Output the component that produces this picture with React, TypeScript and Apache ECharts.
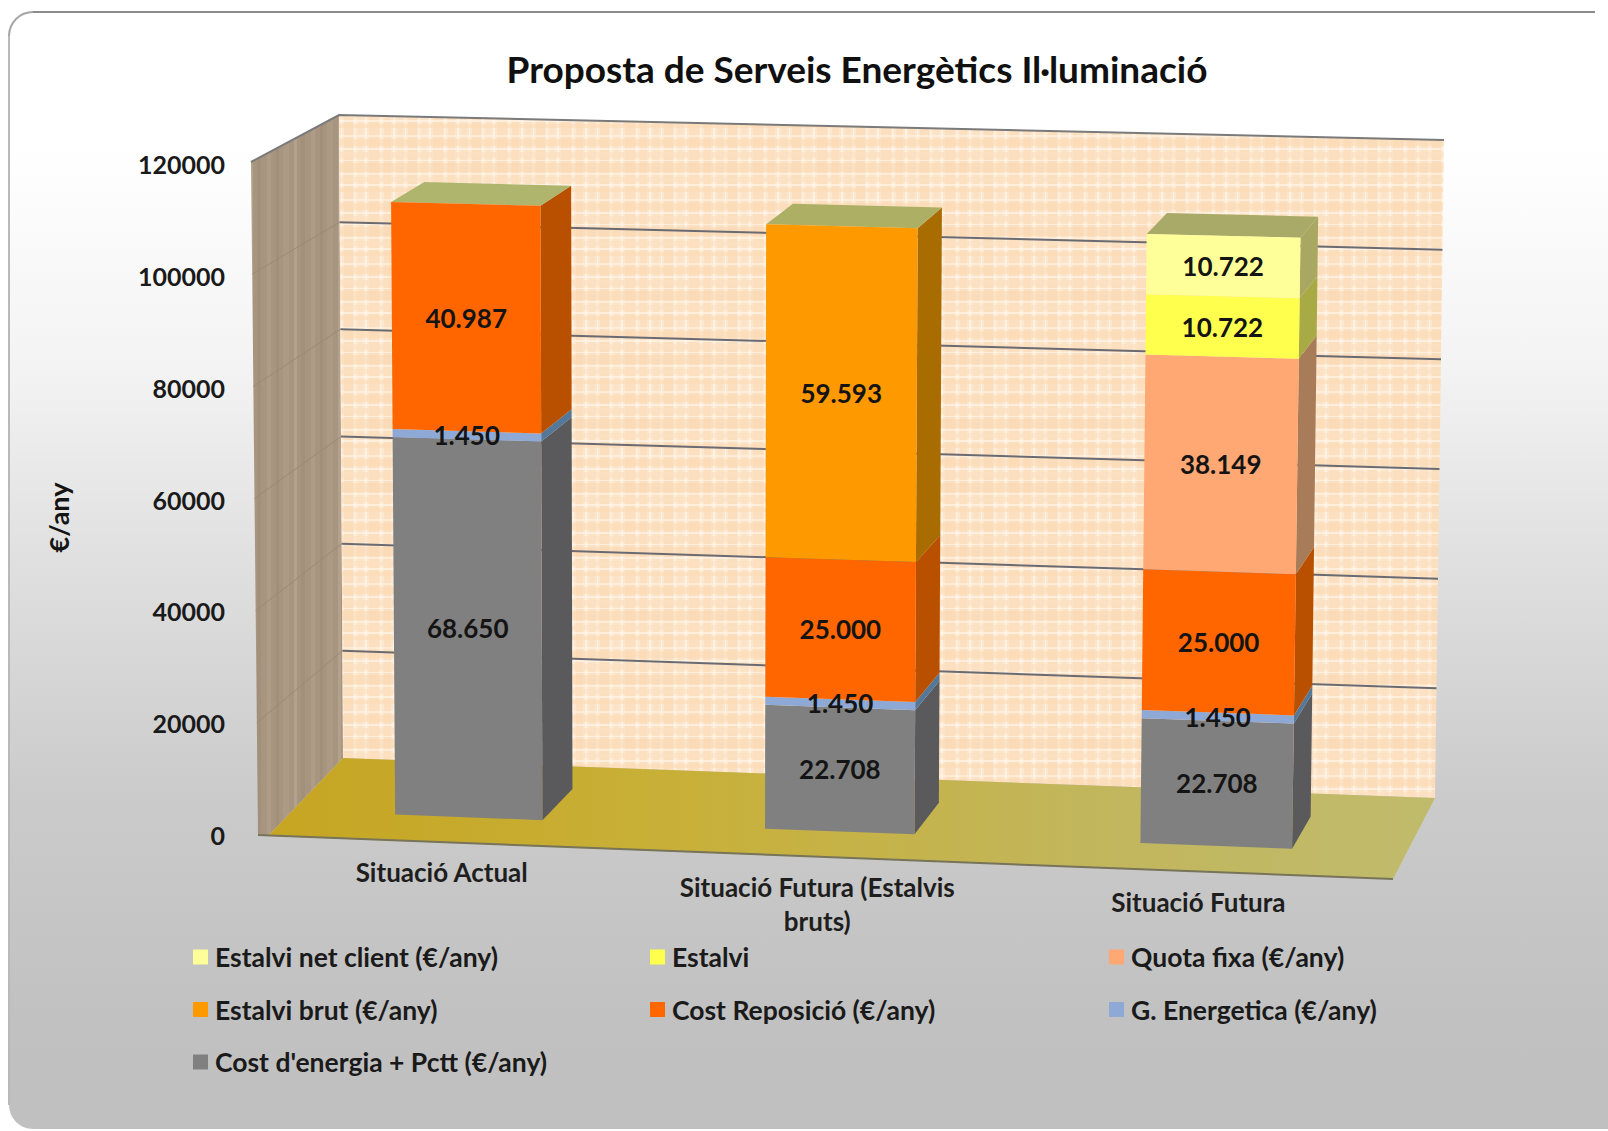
import React, { useEffect, useRef } from "react";
import * as echarts from "echarts";

const titleText = "Proposta de Serveis Energètics Il·luminació";
const axisName = "€/any";
const categories = ["Situació Actual", "Situació Futura (Estalvis\nbruts)", "Situació Futura"];
const tickValues = [0, 20000, 40000, 60000, 80000, 100000, 120000];

const costEnergia = [68650, 22708, 22708];
const gEnergetica = [1450, 1450, 1450];
const costReposicio = [40987, 25000, 25000];
const estalviBrut = [0, 59593, 0];
const quotaFixa = [0, 0, 38149];
const estalvi = [0, 0, 10722];
const estalviNet = [0, 0, 10722];

const seriesNames = [
  "Cost d'energia + Pctt (€/any)",
  "G. Energetica (€/any)",
  "Cost Reposició (€/any)",
  "Estalvi brut (€/any)",
  "Quota fixa (€/any)",
  "Estalvi",
  "Estalvi net client (€/any)",
];
const seriesValues = [costEnergia, gEnergetica, costReposicio, estalviBrut, quotaFixa, estalvi, estalviNet];
const frontColors = ["#808080", "#8ea9d6", "#ff6600", "#ff9900", "#ffa874", "#ffff4d", "#ffff99"];
const sideColors = ["#5a5a5c", "#54789a", "#b85000", "#a86c00", "#a87c58", "#a8aa45", "#a8a862"];
const topColors = ["#8a8a60", "#8a9a80", "#b0b56e", "#adb064", "#b0a870", "#abab62", "#aaaa68"];

const legendColumns = [
  { left: 193, names: [seriesNames[6], seriesNames[3], seriesNames[0]] },
  { left: 650, names: [seriesNames[5], seriesNames[2]] },
  { left: 1109, names: [seriesNames[4], seriesNames[1]] },
];

const FONT = "Lato, 'Noto Sans', sans-serif";
const INK = "#141414";
const BAR_FRACTION = 0.4;
const DEPTH_FRONT = 0.68;
const DEPTH_BACK = 0.28;

// corners of the 3D box in the picture: [category 0..1][value 0..1][depth 0 back, 1 front]
const BOX = {
  bbl: [343, 758], bbr: [1435, 798], btl: [339, 115], btr: [1444, 140],
  fbl: [258, 835], fbr: [1393, 879], ftl: [251, 162], ftr: [1405, 190],
};
const FLOOR_CORNER = [268, 836];
const mix = (a: number[], b: number[], t: number) => [a[0] + (b[0] - a[0]) * t, a[1] + (b[1] - a[1]) * t];
function project(uIn: number, v: number, d: number) {
  const u = uIn - 0.022 * uIn * (1 - uIn);
  const back = mix(mix(BOX.bbl, BOX.bbr, u), mix(BOX.btl, BOX.btr, u), v);
  const front = mix(mix(BOX.fbl, BOX.fbr, u), mix(BOX.ftl, BOX.ftr, u), v);
  return mix(back, front, d);
}
// bars stand a little lower on the wall than the box scale: the original's perspective
const barLevel = (v: number) => v - 0.0045 * Math.min(1, v / 0.1);
const norm = (cs: any, pt: number[]) => [(pt[0] - cs.x) / cs.width, (cs.y + cs.height - pt[1]) / cs.height];
const fmtValue = (n: number) => {
  const s = String(n);
  return s.slice(0, s.length - 3) + "." + s.slice(-3);
};

function makeBackTexture() {
  const c = document.createElement("canvas");
  c.width = 64; c.height = 64;
  const g = c.getContext("2d")!;
  g.fillStyle = "#fce6cd";
  g.fillRect(0, 0, 64, 64);
  const bands = [
    [0, 7, "#fbdab4"], [9, 2, "#fff8ee"], [13, 6, "#fcdfbf"], [21, 1, "#fff8ee"],
    [24, 9, "#fad9b2"], [34, 2, "#fff5e8"], [38, 5, "#fce1c2"], [45, 2, "#fff9f0"],
    [49, 10, "#fbdbb6"], [60, 2, "#fff5e8"],
  ] as [number, number, string][];
  g.globalAlpha = 0.6;
  bands.forEach(([p, w, col]) => { g.fillStyle = col; g.fillRect(p, 0, w, 64); });
  bands.forEach(([p, w, col]) => { g.fillStyle = col; g.fillRect(0, (p + 11) % 64, 64, w); });
  return c;
}
function makeSideTexture() {
  const c = document.createElement("canvas");
  c.width = 44; c.height = 8;
  const g = c.getContext("2d")!;
  g.fillStyle = "#a8957f";
  g.fillRect(0, 0, 44, 8);
  [[3, 4, "#ae9c86"], [12, 3, "#a28f7a"], [19, 6, "#ac9a84"], [30, 3, "#b2a18c"], [37, 4, "#a3907b"]].forEach(
    ([p, w, col]: any) => { g.fillStyle = col; g.fillRect(p, 0, w, 8); }
  );
  return c;
}

function buildOption() {
  const backTex = { image: makeBackTexture(), repeat: "repeat", imageWidth: 64, imageHeight: 64 };
  const sideTex = { image: makeSideTexture(), repeat: "repeat", imageWidth: 44, imageHeight: 8 };

  const wallsSeries = {
    type: "custom", name: "walls", silent: true, z: 1, coordinateSystem: "cartesian2d",
    data: [[0, 0]],
    renderItem: () => ({
      type: "group",
      children: [
        { type: "polygon", shape: { points: [BOX.fbl, BOX.ftl, BOX.btl, BOX.bbl, FLOOR_CORNER] }, style: { fill: sideTex } },
        { type: "polygon", shape: { points: [BOX.bbl, BOX.btl, BOX.btr, BOX.bbr] }, style: { fill: backTex } },
        {
          type: "polygon",
          shape: { points: [FLOOR_CORNER, BOX.bbl, BOX.bbr, BOX.fbr] },
          style: {
            fill: {
              type: "linear", x: 0, y: 0, x2: 1, y2: 0,
              colorStops: [
                { offset: 0, color: "#c6a522" }, { offset: 0.35, color: "#c8b038" },
                { offset: 0.7, color: "#c2b65c" }, { offset: 1, color: "#c0bb6c" },
              ],
            },
          },
        },
        { type: "polyline", shape: { points: [BOX.fbl, BOX.fbr] }, style: { stroke: "#77745a", lineWidth: 2, fill: "none" } },
        { type: "polyline", shape: { points: [BOX.ftl, BOX.btl, BOX.btr] }, style: { stroke: "#7a7a7a", lineWidth: 2, fill: "none" } },
      ],
    }),
  };

  const gridSeries = {
    type: "custom", name: "grid lines", silent: true, z: 1, coordinateSystem: "cartesian2d",
    data: tickValues.filter((t) => t > 0 && t < 120000).map((t) => [0, t]),
    renderItem: (params: any, api: any) => {
      const cs = params.coordSys;
      const [, v] = norm(cs, api.coord([0, api.value(1)]));
      return {
        type: "group",
        children: [
          { type: "polyline", shape: { points: [project(0, v, 0), project(1, v, 0)] }, style: { stroke: "#6a6a72", lineWidth: 2, fill: "none" } },
          { type: "polyline", shape: { points: [project(0, v, 1), project(0, v, 0)] }, style: { stroke: "#9a8a78", lineWidth: 1, fill: "none" } },
        ],
      };
    },
  };

  const barSeries = seriesNames.map((name, sIdx) => {
    const data: number[][] = [];
    categories.forEach((_, c) => {
      const val = seriesValues[sIdx][c];
      if (!val) return;
      const lo = seriesValues.slice(0, sIdx).reduce((acc, arr) => acc + arr[c], 0);
      const isTop = seriesValues.slice(sIdx + 1).every((arr) => !arr[c]) ? 1 : 0;
      data.push([c, lo, lo + val, val, isTop]);
    });
    return {
      type: "custom", name, silent: true, z: 2, coordinateSystem: "cartesian2d",
      itemStyle: { color: frontColors[sIdx] },
      data,
      renderItem: (params: any, api: any) => {
        const cs = params.coordSys;
        const band = api.size([1, 0])[0];
        const c = api.value(0);
        const p0 = api.coord([c, api.value(1)]);
        const p1 = api.coord([c, api.value(2)]);
        const [uMid, rawV0] = norm(cs, p0);
        const [, rawV1] = norm(cs, p1);
        const v0 = barLevel(rawV0), v1 = barLevel(rawV1);
        const half = (band * BAR_FRACTION) / 2 / cs.width;
        const ul = uMid - half, ur = uMid + half;
        const children: any[] = [
          {
            type: "polygon",
            shape: { points: [project(ur, v0, DEPTH_FRONT), project(ur, v1, DEPTH_FRONT), project(ur, v1, DEPTH_BACK), project(ur, v0, DEPTH_BACK)] },
            style: { fill: sideColors[sIdx] },
          },
        ];
        if (api.value(4)) {
          children.push({
            type: "polygon",
            shape: { points: [project(ul, v1, DEPTH_FRONT), project(ur, v1, DEPTH_FRONT), project(ur, v1, DEPTH_BACK), project(ul, v1, DEPTH_BACK)] },
            style: { fill: topColors[sIdx] },
          });
        }
        children.push({
          type: "polygon",
          shape: { points: [project(ul, v0, DEPTH_FRONT), project(ur, v0, DEPTH_FRONT), project(ur, v1, DEPTH_FRONT), project(ul, v1, DEPTH_FRONT)] },
          style: { fill: frontColors[sIdx] },
        });
        const mid = project(uMid, (v0 + v1) / 2, DEPTH_FRONT);
        children.push({
          type: "text", x: mid[0], y: mid[1], z2: 100,
          style: {
            text: fmtValue(api.value(3)), fontFamily: FONT, fontWeight: "bold", fontSize: 26, fill: INK,
            align: "center", verticalAlign: "middle",
          },
        });
        return { type: "group", children };
      },
    };
  });

  const categorySeries = {
    type: "custom", name: "category labels", silent: true, z: 3, coordinateSystem: "cartesian2d",
    data: categories.map((_, i) => [i, 0]),
    renderItem: (params: any, api: any) => {
      const i = api.value(0);
      const [u] = norm(params.coordSys, api.coord([i, 0]));
      const p = project(u, 0, 1);
      return {
        type: "text", x: p[0] - 2, y: p[1] + 13,
        style: {
          text: categories[i], fontFamily: FONT, fontWeight: "bold", fontSize: 26, lineHeight: 34, fill: "#1e1e1e",
          align: "center", verticalAlign: "top",
        },
      };
    },
  };

  return {
    animation: false,
    graphic: [
      {
        type: "rect", z: -10, silent: true,
        shape: { x: 9, y: 12, width: 1700, height: 1117, r: 24 },
        style: {
          fill: {
            type: "linear", x: 0, y: 0, x2: 0, y2: 1,
            colorStops: [
              { offset: 0, color: "#ffffff" }, { offset: 0.12, color: "#ffffff" }, { offset: 0.32, color: "#f3f3f3" },
              { offset: 0.48, color: "#e1e1e1" }, { offset: 0.7, color: "#cbcbcb" }, { offset: 0.9, color: "#c1c1c1" },
              { offset: 1, color: "#c0c0c0" },
            ],
          },
        },
      },
      { type: "line", z: -9, silent: true, shape: { x1: 33, y1: 12, x2: 1595, y2: 12 }, style: { stroke: "#8c8c8c", lineWidth: 2 } },
      { type: "line", z: -9, silent: true, shape: { x1: 9, y1: 36, x2: 9, y2: 1105 }, style: { stroke: "#b9b9b9", lineWidth: 2 } },
      { type: "arc", z: -9, silent: true, shape: { cx: 33, cy: 36, r: 24, startAngle: Math.PI, endAngle: Math.PI * 1.5 }, style: { stroke: "#a5a5a5", lineWidth: 2, fill: "none" } },
    ],
    title: {
      text: titleText, left: 852, top: 45, textAlign: "center",
      textStyle: { fontFamily: FONT, fontWeight: "bold", fontSize: 37, color: "#101010" },
    },
    grid: { left: 240, right: 170, top: 164, bottom: 296, containLabel: false },
    xAxis: { type: "category", data: categories, show: false },
    yAxis: {
      type: "value", min: 0, max: 120000, interval: 20000,
      name: axisName, nameLocation: "middle", nameGap: 168, nameRotate: 90,
      nameTextStyle: { fontFamily: FONT, fontWeight: "bold", fontSize: 27, color: "#141414", padding: [0, 36, 0, 0] },
      axisLine: { show: false }, axisTick: { show: false }, splitLine: { show: false },
      axisLabel: {
        fontFamily: FONT, fontWeight: "bold", fontSize: 25, color: "#1a1a1a", margin: 15,
        formatter: (v: number) => String(v),
      },
    },
    legend: legendColumns.map((col) => ({
      left: col.left, top: 942, orient: "vertical", itemGap: 22.5, itemWidth: 15, itemHeight: 15,
      icon: "rect", selectedMode: false, data: col.names, padding: 0,
      textStyle: { fontFamily: FONT, fontWeight: "bold", fontSize: 26.5, lineHeight: 30, color: "#1a1a1a", padding: [0, 0, 0, 2] },
    })),
    series: [wallsSeries, gridSeries, ...barSeries, categorySeries],
  };
}

export default function App() {
  const ref = useRef<HTMLDivElement>(null);
  useEffect(() => {
    const chart = echarts.init(ref.current!, undefined, { renderer: "svg" });
    chart.setOption(buildOption() as any);
    return () => chart.dispose();
  }, []);
  return <div ref={ref} style={{ position: "absolute", left: 0, top: 0, width: 1608, height: 1131, overflow: "hidden" }} />;
}
